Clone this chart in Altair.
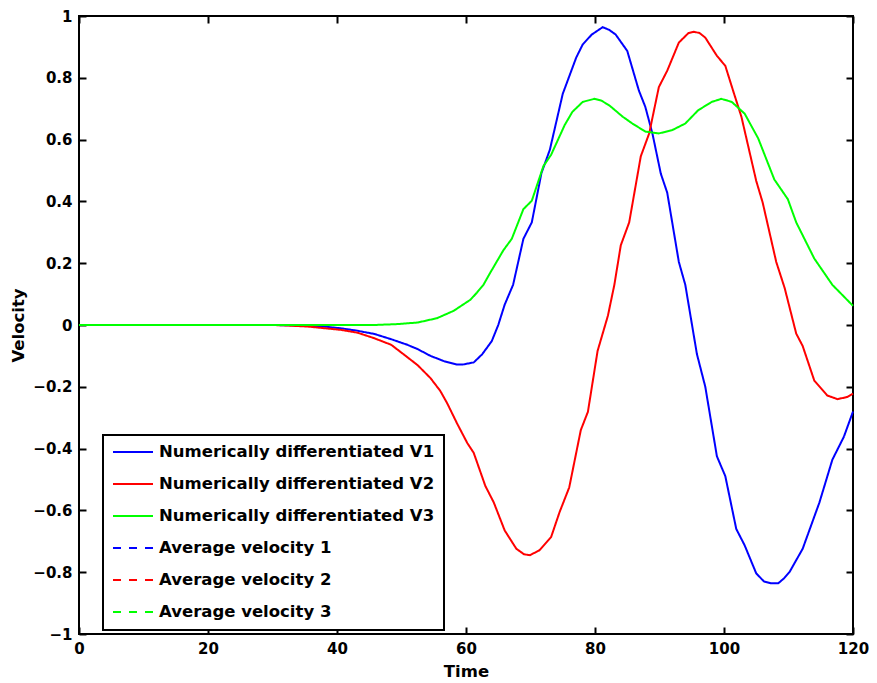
import altair as alt
import pandas as pd

series_names = [
    "Numerically differentiated V1",
    "Numerically differentiated V2",
    "Numerically differentiated V3",
    "Average velocity 1",
    "Average velocity 2",
    "Average velocity 3",
]
series_colors = ["#0000ff", "#ff0000", "#00ff00", "#0000ff", "#ff0000", "#00ff00"]
series_dashes = [[1, 0], [1, 0], [1, 0], [8, 8], [8, 8], [8, 8]]

x_ticks = [0, 20, 40, 60, 80, 100, 120]
y_ticks = [-1, -0.8, -0.6, -0.4, -0.2, 0, 0.2, 0.4, 0.6, 0.8, 1]

v1_t = [0, 30, 35, 38, 40.7, 43, 45.8, 48.4, 50.9, 52.5, 54.5, 56.6, 58.6, 59.5, 61.2, 62.5,
        64.0, 65.0, 66.0, 67.3, 68.9, 70.2, 71.7, 73.0, 75.0, 77.1, 78.1, 79.5, 81.2, 82.2,
        83.2, 85.0, 86.8, 87.8, 88.9, 90.2, 91.2, 93.0, 94.0, 95.8, 97.1, 98.9, 100.2,
        101.9, 103.2, 105.0, 106.2, 107.3, 108.4, 109.3, 110.2, 112.2, 114.8, 116.8, 118.6, 120]
v1_v = [0, 0, -0.002, -0.005, -0.011, -0.018, -0.029, -0.046, -0.064, -0.078, -0.1, -0.117,
        -0.128, -0.128, -0.121, -0.095, -0.052, 0.0, 0.066, 0.13, 0.279, 0.332, 0.492, 0.567,
        0.748, 0.866, 0.908, 0.94, 0.964, 0.955, 0.94, 0.887, 0.759, 0.706, 0.62, 0.49, 0.428,
        0.204, 0.13, -0.094, -0.2, -0.425, -0.489, -0.66, -0.713, -0.804, -0.83, -0.836,
        -0.836, -0.82, -0.798, -0.724, -0.574, -0.436, -0.361, -0.28]

v2_t = [0, 30, 31.7, 35.5, 40.7, 43.2, 45.8, 48.4, 50.4, 52.5, 54.5, 56.0, 57.1, 58.6, 60.2,
        61.2, 63.0, 64.3, 66.0, 67.8, 69.0, 69.9, 71.4, 73.2, 74.5, 76.0, 77.8, 78.9, 80.4,
        82.0, 83.0, 84.0, 85.3, 87.1, 88.4, 89.9, 91.2, 93.0, 94.5, 95.3, 96.2, 97.1, 98.9,
        100.2, 101.4, 102.7, 105.0, 106.0, 108.1, 109.4, 111.2, 112.2, 114.0, 116.0, 117.6,
        119.1, 120]
v2_v = [0, 0, -0.001, -0.005, -0.016, -0.025, -0.043, -0.064, -0.096, -0.13, -0.172, -0.213,
        -0.254, -0.318, -0.382, -0.414, -0.521, -0.574, -0.665, -0.724, -0.742, -0.745, -0.729,
        -0.686, -0.606, -0.526, -0.34, -0.281, -0.084, 0.03, 0.13, 0.258, 0.332, 0.546, 0.62,
        0.77, 0.823, 0.914, 0.945, 0.949, 0.945, 0.93, 0.871, 0.839, 0.759, 0.674, 0.466,
        0.396, 0.204, 0.12, -0.028, -0.068, -0.18, -0.228, -0.24, -0.233, -0.222]

v3_t = [0, 45.8, 49.4, 52.5, 55.5, 58.1, 60.7, 61.7, 62.7, 63.7, 65.8, 67.1, 68.9, 70.2, 72.0,
        73.2, 75.3, 76.5, 78.1, 79.9, 81.0, 82.2, 84.3, 85.8, 87.8, 89.9, 92.0, 94.0, 96.0,
        98.1, 99.6, 101.2, 103.2, 105.3, 107.8, 109.9, 111.2, 114.0, 116.8, 120]
v3_v = [0, 0, 0.003, 0.008, 0.022, 0.046, 0.082, 0.105, 0.13, 0.167, 0.242, 0.279, 0.375,
        0.402, 0.514, 0.551, 0.647, 0.69, 0.722, 0.732, 0.726, 0.711, 0.674, 0.652, 0.626,
        0.62, 0.631, 0.652, 0.695, 0.722, 0.732, 0.722, 0.684, 0.604, 0.471, 0.407, 0.332,
        0.215, 0.13, 0.062]

rows = []
for name, ts, vs in [(series_names[0], v1_t, v1_v),
                     (series_names[1], v2_t, v2_v),
                     (series_names[2], v3_t, v3_v)]:
    for t, v in zip(ts, vs):
        rows.append({"series": name, "t": t, "v": v})
df = pd.DataFrame(rows)

FONT = "DejaVu Sans"
TICK = 7

x_scale = alt.Scale(domain=[0, 120], nice=False, zero=False)
y_scale = alt.Scale(domain=[-1, 1], nice=False, zero=False)

lines = alt.Chart(df).mark_line(strokeWidth=2).encode(
    x=alt.X("t:Q", scale=x_scale,
            axis=alt.Axis(values=x_ticks, orient="bottom", offset=-TICK, tickSize=TICK,
                          domain=False, grid=False, labelPadding=7, labelFlush=False,
                          title="Time", titlePadding=7, format="d")),
    y=alt.Y("v:Q", scale=y_scale,
            axis=alt.Axis(values=y_ticks, orient="left", offset=-TICK, tickSize=TICK,
                          domain=False, grid=False, labelPadding=7, labelFlush=False,
                          title="Velocity", titlePadding=6, format="~g")),
    color=alt.Color("series:N", scale=alt.Scale(domain=series_names, range=series_colors),
                    legend=alt.Legend(title=None, orient="none", legendX=24, legendY=419,
                                      symbolType="stroke", symbolSize=1600,
                                      symbolStrokeWidth=2, strokeColor="black",
                                      fillColor="white", padding=9, rowPadding=15,
                                      clipHeight=16,
                                      labelOffset=5, labelFont=FONT, labelFontWeight="bold",
                                      labelFontSize=16.5, labelColor="black", labelLimit=400)),
    strokeDash=alt.StrokeDash("series:N",
                              scale=alt.Scale(domain=series_names, range=series_dashes),
                              legend=alt.Legend(title=None, orient="none", legendX=24,
                                                legendY=419)),
)

frame_ticks = alt.Chart(df).mark_point(opacity=0).encode(
    x=alt.X("t:Q", scale=x_scale,
            axis=alt.Axis(values=x_ticks, orient="top", offset=-TICK, tickSize=TICK,
                          domain=False, grid=False, labels=False, title=None)),
    y=alt.Y("v:Q", scale=y_scale,
            axis=alt.Axis(values=y_ticks, orient="right", offset=-TICK, tickSize=TICK,
                          domain=False, grid=False, labels=False, title=None)),
)

chart = alt.layer(lines, frame_ticks).resolve_axis(
    x="independent", y="independent"
).properties(
    width=774, height=618,
    autosize=alt.AutoSizeParams(type="none"),
    padding={"left": 71, "top": 8, "right": 16, "bottom": 45},
    background="white",
).configure_view(
    stroke="black", strokeWidth=2
).configure_axis(
    tickColor="black", tickWidth=2, labelColor="black", labelFont=FONT,
    labelFontWeight="bold", labelFontSize=15, titleFont=FONT, titleFontWeight="bold",
    titleFontSize=16.5, titleColor="black",
).configure_legend(
    strokeWidth=2
)

chart.save("out.html", embed_options={"renderer": "svg", "actions": False})
